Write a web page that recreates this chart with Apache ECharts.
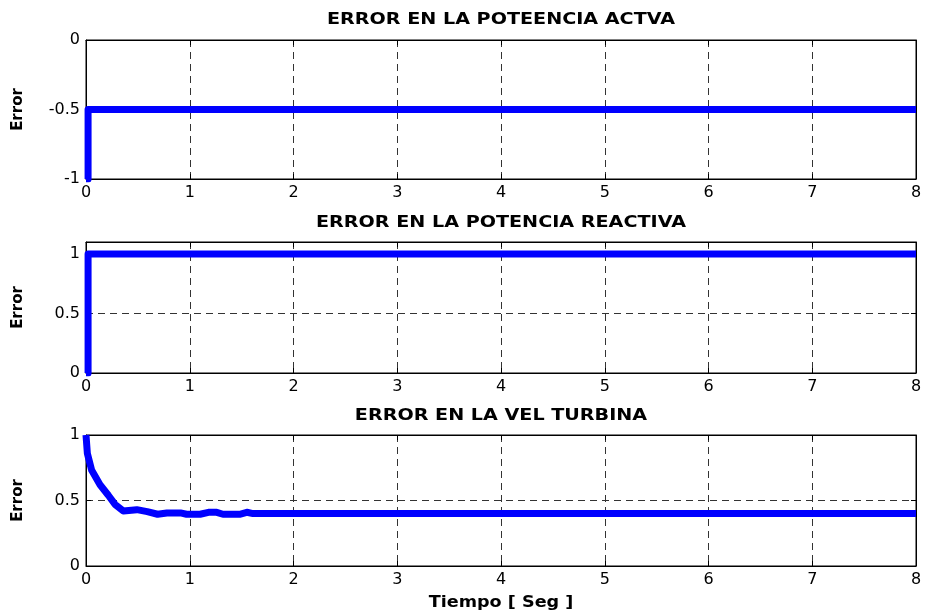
<!DOCTYPE html>
<html>
<head>
<meta charset="utf-8">
<script src="https://cdn.jsdelivr.net/npm/echarts@6/dist/echarts.min.js"></script>
<style>html,body{margin:0;padding:0;background:#fff}#c{width:926px;height:614px}</style>
</head>
<body>
<div id="c"></div>
<script>
// ---- data ----
var titles = ['ERROR EN LA POTEENCIA ACTVA', 'ERROR EN LA POTENCIA REACTIVA', 'ERROR EN LA VEL TURBINA'];
var xTicksMax = 8;
var yLabel = 'Error';
var xLabel = 'Tiempo [ Seg ]';

var t1 = [0, 0.02, 8];
var e1 = [-1, -0.5, -0.5];

var t2 = [0, 0.02, 8];
var e2 = [0, 1, 1];

var t3 = [0, 0.013, 0.055, 0.135, 0.215, 0.28, 0.36, 0.49, 0.59, 0.69, 0.78, 0.91, 0.97, 1.1, 1.18, 1.26, 1.32, 1.48, 1.55, 1.61, 2, 8];
var e3 = [1.0, 0.86, 0.73, 0.62, 0.54, 0.47, 0.42, 0.43, 0.415, 0.395, 0.405, 0.405, 0.395, 0.395, 0.41, 0.41, 0.395, 0.395, 0.41, 0.40, 0.40, 0.40];

var yMin = [-1, 0, 0];
var yMax = [0, 1.1, 1];

function pairs(t, e) { return t.map(function (v, i) { return [v, e[i]]; }); }
var seriesData = [pairs(t1, e1), pairs(t2, e2), pairs(t3, e3)];
var steps = ['end', 'end', false];

// ---- layout ----
var grids = [
  {left: 86, right: 10, top: 40, height: 139},
  {left: 86, right: 10, top: 242, height: 131},
  {left: 86, right: 10, top: 435, height: 131}
];
var titleY = [20, 223, 416];
var FONT = 'DejaVu Sans';
var dash = {color: '#333', type: [7, 5], width: 1};

var graphics = titles.map(function (t, i) {
  return {type: 'text', x: 501, y: titleY[i], scaleX: 1.16, silent: true,
    style: {text: t, align: 'center', verticalAlign: 'middle', fill: '#000',
      font: 'bold 16.5px "DejaVu Sans"'}};
});
graphics.push({type: 'text', x: 501, y: 603, scaleX: 1.1, silent: true,
  style: {text: xLabel, align: 'center', verticalAlign: 'middle', fill: '#000',
    font: 'bold 16px "DejaVu Sans"'}});

var option = {
  animation: false,
  backgroundColor: '#fff',
  graphic: graphics,
  grid: grids.map(function (g) { return Object.assign({show: true, borderColor: '#000', borderWidth: 1, backgroundColor: 'transparent'}, g); }),
  xAxis: [], yAxis: [], series: []
};

for (var i = 0; i < 3; i++) {
  option.xAxis.push({
    type: 'value', gridIndex: i, min: 0, max: xTicksMax, interval: 1,
    axisLine: {show: true, onZero: false, lineStyle: {color: '#000'}},
    axisTick: {show: true, inside: true, length: 5, lineStyle: {color: '#000'}},
    axisLabel: {color: '#000', fontFamily: FONT, fontSize: 16, margin: 6},
    splitLine: {show: true, lineStyle: dash}
  });
  option.xAxis.push({
    type: 'value', gridIndex: i, position: 'top', min: 0, max: xTicksMax, interval: 1,
    axisLine: {show: true, onZero: false, lineStyle: {color: '#000'}},
    axisTick: {show: true, inside: true, length: 5, lineStyle: {color: '#000'}},
    axisLabel: {show: false}, splitLine: {show: false}
  });
  var ymax = yMax[i];
  option.yAxis.push({
    type: 'value', gridIndex: i, min: yMin[i], max: ymax, interval: 0.5,
    axisLine: {show: true, onZero: false, lineStyle: {color: '#000'}},
    axisTick: {show: true, inside: true, length: 5, lineStyle: {color: '#000'}},
    axisLabel: {color: '#000', fontFamily: FONT, fontSize: 16, margin: 6,
      formatter: (function (m) { return function (v) { return (Math.abs(v - m) < 1e-9 && Math.abs(m * 2 - Math.round(m * 2)) > 1e-9) ? '' : String(v); }; })(ymax)},
    splitLine: {show: true, lineStyle: dash},
    name: yLabel, nameLocation: 'middle', nameGap: 60, nameRotate: 90,
    nameTextStyle: {fontFamily: FONT, fontWeight: 'bold', fontSize: 15, color: '#000'}
  });
  option.yAxis.push({
    type: 'value', gridIndex: i, position: 'right', min: yMin[i], max: ymax, interval: 0.5,
    axisLine: {show: true, onZero: false, lineStyle: {color: '#000'}},
    axisTick: {show: true, inside: true, length: 5, lineStyle: {color: '#000'}},
    axisLabel: {show: false}, splitLine: {show: false}
  });
  option.series.push({
    type: 'line', xAxisIndex: 2 * i, yAxisIndex: 2 * i, data: seriesData[i],
    step: steps[i], showSymbol: false, symbol: 'none',
    lineStyle: {color: '#0000ff', width: 7, join: 'round', cap: 'butt'}
  });
}

var chart = echarts.init(document.getElementById('c'), null, {renderer: 'canvas'});
chart.setOption(option);
</script>
</body>
</html>
